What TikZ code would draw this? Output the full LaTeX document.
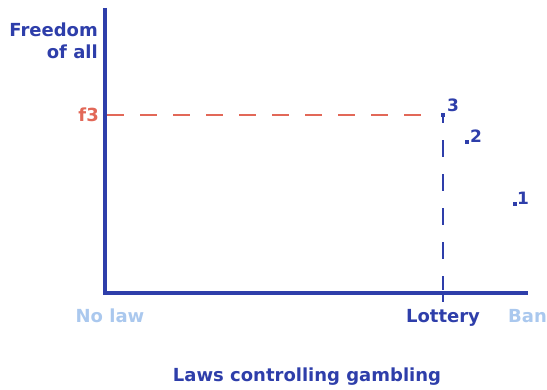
\documentclass[tikz,border=0pt]{standalone}
\usepackage{fontspec}
\setmainfont{DejaVu Sans}
\usetikzlibrary{positioning,calc}
\definecolor{axisblue}{RGB}{46,62,170}
\definecolor{paleblue}{RGB}{170,200,238}
\definecolor{levelred}{RGB}{226,104,88}
\begin{document}
\begin{tikzpicture}[x=1pt, y=-1pt,
  lbl/.style={font=\bfseries\fontsize{18}{22}\selectfont, text=axisblue, inner sep=0pt},
  endlbl/.style={lbl, text=paleblue},
  pt/.style={rectangle, fill=axisblue, inner sep=0pt, minimum size=4pt},
  num/.style={font=\bfseries\fontsize{17}{20}\selectfont, text=axisblue, inner sep=0pt},
  axis/.style={draw=axisblue, line width=4pt},
  guide/.style={dash pattern=on 17pt off 16pt}]
\useasboundingbox (0,0) rectangle (547,390);
% axes
\coordinate (top) at (105,8);
\coordinate (origin) at (105,293);
\coordinate (right) at (528,293);
\draw[axis] (top) -- (origin) -- (right);
\coordinate (lotbase) at (443,293);
\coordinate (lottick) at (443,302);
\draw[draw=axisblue, line width=2pt] (lotbase) -- (lottick);

% points
\node[pt] (p3) at (443,115) {};
\node[pt] (p2) at (467,142) {};
\node[pt] (p1) at (515,204) {};
\node[num, anchor=south west] (n3) at (447,112) {3};
\node[num, anchor=south west] (n2) at (470,143) {2};
\node[num, anchor=south west] (n1) at (517,205) {1};

% guide lines
\coordinate (f3base) at (107,115);
\coordinate (f3end) at (431,115);
\draw[guide, levelred, line width=1.8pt] (f3base) -- (f3end);
\coordinate (lotfoot) at (443,290);
\draw[guide, axisblue, line width=1.5pt, dash pattern=on 17pt off 17pt, dash phase=11pt] (p3.south) -- (lotfoot);

% labels
\node[lbl, anchor=east, align=right] (yaxis) at (98,41) {Freedom\\of all};
\node[lbl, text=levelred, anchor=east] (f3) at (99,115) {f3};
\node[endlbl] (nolaw) at (110,316) {No law};
\node[lbl] (lottery) at (443,318) {Lottery};
\node[endlbl, anchor=west] (ban) at (508,316) {Ban};
\node[lbl] (xaxis) at (307,377) {Laws controlling gambling};
\end{tikzpicture}
\end{document}
